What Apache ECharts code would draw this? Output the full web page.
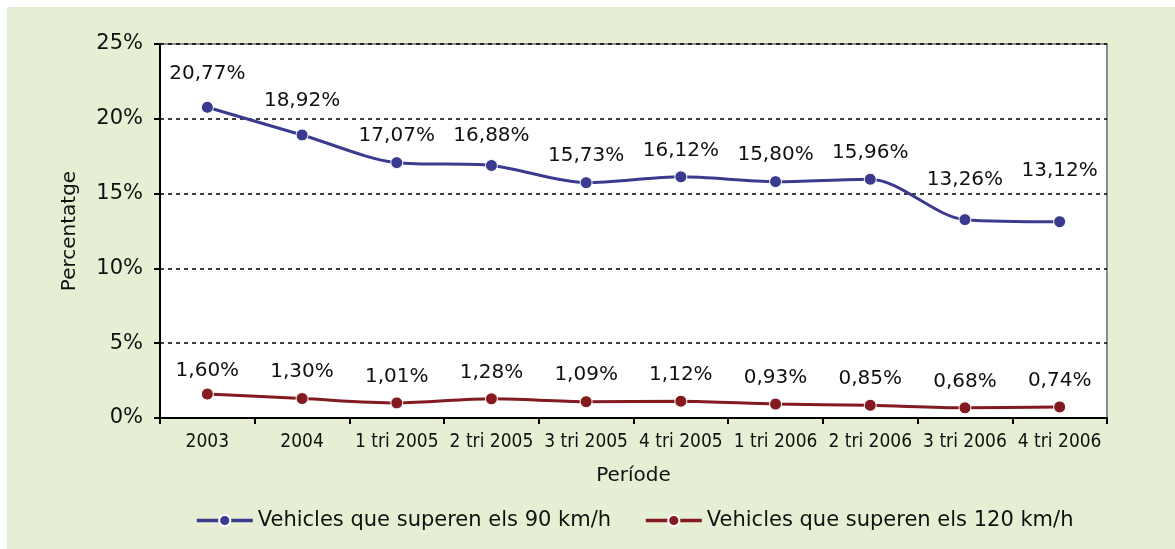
<!DOCTYPE html>
<html>
<head>
<meta charset="utf-8">
<script src="https://cdn.jsdelivr.net/npm/echarts@6/dist/echarts.min.js"></script>
<style>
html,body{margin:0;padding:0;background:#fff;}
#bg{position:absolute;left:7px;top:7px;width:1168px;height:542px;background:#e6efd4;}
#chart{position:absolute;left:0;top:0;width:1175px;height:549px;}
</style>
</head>
<body>
<div id="bg"></div>
<div id="chart"></div>
<script>
const categories = ['2003','2004','1 tri 2005','2 tri 2005','3 tri 2005','4 tri 2005','1 tri 2006','2 tri 2006','3 tri 2006','4 tri 2006'];
const series90 = [20.77, 18.92, 17.07, 16.88, 15.73, 16.12, 15.80, 15.96, 13.26, 13.12];
const series120 = [1.60, 1.30, 1.01, 1.28, 1.09, 1.12, 0.93, 0.85, 0.68, 0.74];
const seriesNames = ['Vehicles que superen els 90 km/h', 'Vehicles que superen els 120 km/h'];
const yTicks = [0, 5, 10, 15, 20, 25];
// extra upward shift (px) of individual value labels, as placed in the original
const labelLift90 = [7, 8, 0, 3, 0, 0, 0, 0, 13, 24];
const labelLift120 = [-3, 0, 0, 0, 0, 0, 0, 0, 0, 0];

const fmt = v => v.toFixed(2).replace('.', ',') + '%';
const mainFont = 'DejaVu Sans';
const narrowFont = '"DejaVu Sans Condensed", "Liberation Sans Narrow", sans-serif';

function makeSeries(name, data, lifts, color) {
  return {
    name: name,
    type: 'line',
    data: data.map((v, i) => ({value: v, label: {offset: [0, -lifts[i]]}})),
    smooth: 0.3,
    symbol: 'circle',
    symbolSize: 12,
    showAllSymbol: true,
    lineStyle: {color: color, width: 3},
    itemStyle: {color: color, borderColor: '#fff', borderWidth: 1},
    label: {
      show: true,
      position: 'top',
      distance: 10,
      formatter: p => fmt(p.value),
      fontFamily: mainFont,
      fontSize: 20,
      color: '#111'
    },
    emphasis: {disabled: true}
  };
}

const chart = echarts.init(document.getElementById('chart'), null, {renderer: 'canvas'});
chart.setOption({
  backgroundColor: 'transparent',
  animation: false,
  textStyle: {fontFamily: mainFont, color: '#111'},
  grid: {
    left: 160, right: 68, top: 44, bottom: 131,
    show: true, backgroundColor: '#fff', borderColor: '#8c8c8c', borderWidth: 2
  },
  legend: {
    bottom: 13,
    left: 190,
    itemWidth: 56,
    itemHeight: 14,
    itemGap: 33,
    lineStyle: {width: 3.5},
    textStyle: {fontFamily: mainFont, fontSize: 21, color: '#111'},
    data: seriesNames
  },
  xAxis: {
    type: 'category',
    data: categories,
    boundaryGap: true,
    name: 'Període',
    nameLocation: 'middle',
    nameGap: 48,
    nameTextStyle: {fontFamily: mainFont, fontSize: 20, color: '#111'},
    axisLine: {lineStyle: {color: '#000', width: 2}},
    axisTick: {show: true, length: 6, lineStyle: {color: '#000', width: 2}},
    axisLabel: {fontFamily: narrowFont, fontSize: 19, color: '#111', margin: 15, interval: 0}
  },
  yAxis: {
    type: 'value',
    min: yTicks[0],
    max: yTicks[yTicks.length - 1],
    interval: 5,
    name: 'Percentatge',
    nameLocation: 'middle',
    nameGap: 80,
    nameTextStyle: {fontFamily: mainFont, fontSize: 20, color: '#111'},
    axisLine: {show: true, lineStyle: {color: '#000', width: 2}},
    axisTick: {show: true, inside: false, length: 6, lineStyle: {color: '#000', width: 2}},
    axisLabel: {formatter: '{value}%', fontFamily: mainFont, fontSize: 21, color: '#111', margin: 17},
    splitLine: {show: true, lineStyle: {color: '#000', width: 1.5, type: [4, 4]}}
  },
  series: [
    makeSeries(seriesNames[0], series90, labelLift90, '#3a3a8e'),
    makeSeries(seriesNames[1], series120, labelLift120, '#821a20')
  ]
});
</script>
</body>
</html>
